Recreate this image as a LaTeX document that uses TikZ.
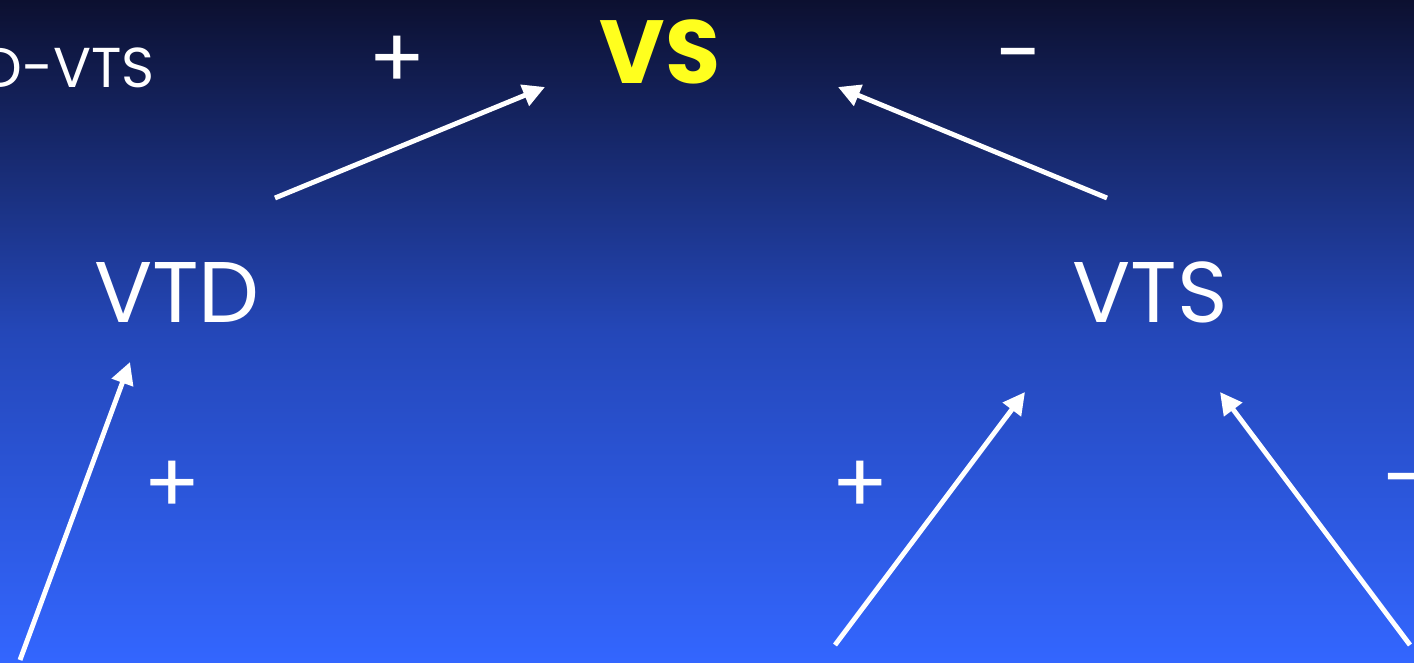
\documentclass[tikz,border=0pt]{standalone}
\usepackage{fontspec}
\setmainfont{Poppins}
\usetikzlibrary{arrows.meta}
\definecolor{skytop}{HTML}{0C1030}
\definecolor{skymid}{HTML}{2447B8}
\definecolor{skybottom}{HTML}{3366FF}
\definecolor{hilite}{HTML}{FFFF1E}

\begin{document}
\begin{tikzpicture}[
    x=0.02cm,
    y=-0.02cm,
    text=white,
    arrow/.style={-{Triangle[length=4.4mm,width=4.4mm]}, draw=white, line width=2.8pt},
    term/.style={font=\fontsize{49}{52}\selectfont, inner sep=0pt},
    sign/.style={font=\fontsize{48}{52}\selectfont, inner sep=0pt},
    formula/.style={font=\fontsize{32}{36}\selectfont, inner sep=0pt}
]

% Background: dark navy fading into bright blue.
\useasboundingbox (0,0) rectangle (1414,663);
\shade[top color=skytop, bottom color=skybottom, middle color=skymid]
    (0,0) rectangle (1414,663);

% Quantities.
\node[term, font=\fontsize{51}{54}\selectfont\bfseries, text=hilite] (vs) at (660,52) {VS};
\node[term] (vtd) at (177,292) {VTD};
\node[term] (vts) at (1150,292) {VTS};
\node[formula, anchor=west] (eq) at (-18,68) {D-VTS};

% Signs of the effects.
\node[sign] (plustop) at (397,62) {+};
\node[sign] (minustop) at (1020,65) {-};
\node[sign] (plusleft) at (172,487) {+};
\node[sign] (plusright) at (860,487) {+};
\node[sign, anchor=west] (minusright) at (1383,490) {-};

% Arrow ends.
\coordinate (vtdout) at (275,198);
\coordinate (vsleft) at (545,87);
\coordinate (vtsout) at (1107,198);
\coordinate (vsright) at (838,87);
\coordinate (srcleft) at (20,660);
\coordinate (vtdin) at (130,362);
\coordinate (srcmid) at (835,645);
\coordinate (vtsinl) at (1025,392);
\coordinate (srcright) at (1410,645);
\coordinate (vtsinr) at (1220,392);

\draw[arrow] (vtdout) -- (vsleft);
\draw[arrow] (vtsout) -- (vsright);
\draw[arrow] (srcleft) -- (vtdin);
\draw[arrow] (srcmid) -- (vtsinl);
\draw[arrow] (srcright) -- (vtsinr);

\end{tikzpicture}
\end{document}
